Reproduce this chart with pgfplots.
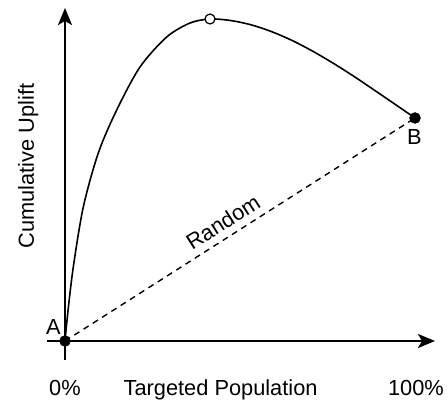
\documentclass[border=0pt]{standalone}
\usepackage{fontspec}
\setmainfont{Liberation Sans}
\usepackage{pgfplots}
\pgfplotsset{compat=1.18}
\usetikzlibrary{arrows.meta}
\begin{document}
\begin{tikzpicture}
\fontsize{21.8}{26}\selectfont
\begin{axis}[
  x=1pt, y=1pt,
  xmin=-18, xmax=370, ymin=-19, ymax=333,
  axis lines=middle,
  axis line style={line width=2pt, -{Stealth[length=17pt,width=14pt,inset=4pt]}},
  xtick=\empty, ytick=\empty,
  clip=false,
]
\path[use as bounding box] (axis cs:-65,-59) rectangle (axis cs:383,341);
% random line
\addplot[black, line width=1.4pt, dash pattern=on 6pt off 5pt] coordinates {(0,0) (350,223)}
  node[pos=0.475, sloped, anchor=center, yshift=15.5pt, font=\fontsize{21.8}{26}\selectfont] {Random};
% uplift curve
\addplot[black, line width=1.6pt, smooth, tension=0.5] coordinates {
(0,0) (3,30) (8.3,74) (18.3,134) (33.3,188) (51.7,231) (75,274) (101.7,304) (125,318) (145,322)
(165.5,320.5) (186,316.2) (206.5,309.4) (227,300.6) (247.5,289.9) (268,277.9) (288.5,264.9)
(309,251.1) (329.5,237.1) (350,223)
};
\addplot[only marks, mark=*, mark size=5.5pt, black] coordinates {(0,0) (350,223)};
\addplot[only marks, mark=*, mark size=5pt, draw=black, fill=white, line width=1.2pt] coordinates {(145,322)};
\node at (axis cs:-11.5,13.5) {A};
\node at (axis cs:349.5,203.5) {B};
\node[anchor=base] at (axis cs:0,-54) {0\%};
\node[anchor=base] at (axis cs:155.6,-54) {Targeted Population};
\node[anchor=base] at (axis cs:351,-54) {100\%};
\node[rotate=90, anchor=base] at (axis cs:-31,175) {Cumulative Uplift};
\end{axis}
\end{tikzpicture}
\end{document}
